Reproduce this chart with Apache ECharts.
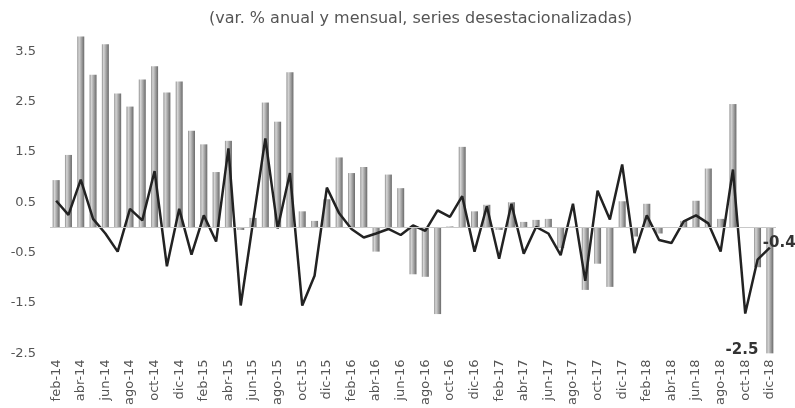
<!DOCTYPE html>
<html>
<head>
<meta charset="utf-8">
<script src="https://cdn.jsdelivr.net/npm/echarts@6/dist/echarts.min.js"></script>
<style>
  html, body { margin: 0; padding: 0; background: #fff; }
  #chart { width: 795px; height: 408px; }
</style>
</head>
<body>
<div id="chart"></div>
<script>
// meses feb-14 .. dic-18
const meses = [
  'feb-14', 'mar-14', 'abr-14', 'may-14', 'jun-14', 'jul-14', 'ago-14', 'sep-14', 'oct-14', 'nov-14', 'dic-14',
  'ene-15', 'feb-15', 'mar-15', 'abr-15', 'may-15', 'jun-15', 'jul-15', 'ago-15', 'sep-15', 'oct-15', 'nov-15', 'dic-15',
  'ene-16', 'feb-16', 'mar-16', 'abr-16', 'may-16', 'jun-16', 'jul-16', 'ago-16', 'sep-16', 'oct-16', 'nov-16', 'dic-16',
  'ene-17', 'feb-17', 'mar-17', 'abr-17', 'may-17', 'jun-17', 'jul-17', 'ago-17', 'sep-17', 'oct-17', 'nov-17', 'dic-17',
  'ene-18', 'feb-18', 'mar-18', 'abr-18', 'may-18', 'jun-18', 'jul-18', 'ago-18', 'sep-18', 'oct-18', 'nov-18', 'dic-18'
]

// var. % anual (barras)
const anual = [
  0.94, 1.44, 3.79, 3.03, 3.64, 2.66, 2.40, 2.94, 3.20, 2.68, 2.90,
  1.92, 1.65, 1.10, 1.72, -0.05, 0.19, 2.48, 2.10, 3.08, 0.32, 0.13, 0.56,
  1.39, 1.08, 1.20, -0.48, 1.05, 0.78, -0.93, -0.98, -1.72, 0.02, 1.60, 0.32,
  0.45, -0.05, 0.50, 0.11, 0.15, 0.17, -0.41, 0.02, -1.24, -0.72, -1.18, 0.52,
  -0.18, 0.47, -0.12, 0.00, 0.13, 0.53, 1.17, 0.17, 2.45, 0.00, -0.79, -2.5
]

// var. % mensual (linea)
const mensual = [
  0.53, 0.25, 0.95, 0.17, -0.12, -0.48, 0.37, 0.14, 1.12, -0.77, 0.37,
  -0.54, 0.24, -0.28, 1.57, -1.55, 0.11, 1.77, -0.02, 1.08, -1.55, -0.96, 0.79,
  0.28, -0.03, -0.20, -0.12, -0.03, -0.15, 0.04, -0.07, 0.34, 0.21, 0.62, -0.48,
  0.42, -0.62, 0.47, -0.52, 0.01, -0.12, -0.55, 0.47, -1.06, 0.73, 0.16, 1.25,
  -0.51, 0.24, -0.25, -0.31, 0.12, 0.24, 0.08, -0.48, 1.15, -1.71, -0.64, -0.4
]

const titulo = '(var. % anual y mensual, series desestacionalizadas)'

const chart = echarts.init(document.getElementById('chart'))

const barColor = new echarts.graphic.LinearGradient(0, 0, 1, 0, [
  { offset: 0, color: '#8c8c8c' },
  { offset: 0.25, color: '#d6d6d6' },
  { offset: 0.55, color: '#ababab' },
  { offset: 1, color: '#6a6a6a' }
])

const last = anual.length - 1

chart.setOption({
  animation: false,
  textStyle: { fontFamily: 'DejaVu Sans' },
  title: {
    text: titulo,
    left: 204,
    top: 6,
    textStyle: { fontSize: 16, fontWeight: 'normal', color: '#555' }
  },
  grid: { left: 50, right: 19, top: 26, bottom: 49 },
  xAxis: {
    type: 'category',
    data: meses,
    axisLine: { show: false },
    axisTick: { show: false },
    axisLabel: { rotate: 90, interval: 1, color: '#555', fontSize: 13, margin: 6 }
  },
  yAxis: {
    type: 'value',
    min: -2.5,
    max: 4,
    interval: 1,
    splitLine: { show: false },
    axisLine: { show: false },
    axisTick: { show: false },
    axisLabel: { color: '#555', fontSize: 13, margin: 14, showMaxLabel: false }
  },
  series: [
    {
      type: 'bar',
      barWidth: 7,
      itemStyle: { color: barColor },
      data: anual.map((v, i) => i === last ? {
        value: v,
        label: {
          show: true,
          position: [-8, '100%'],
          align: 'right',
          verticalAlign: 'middle',
          offset: [0, -3],
          formatter: (p) => p.value.toFixed(1),
          fontSize: 15,
          fontWeight: 'bold',
          color: '#333'
        }
      } : v),
      markLine: {
        silent: true,
        symbol: 'none',
        label: { show: false },
        lineStyle: { color: '#c8c8c8', width: 1, type: 'solid' },
        data: [{ yAxis: 0 }]
      }
    },
    {
      type: 'line',
      showSymbol: false,
      symbol: 'none',
      z: 3,
      lineStyle: { color: '#222', width: 2.5 },
      endLabel: {
        show: true,
        distance: 0,
        offset: [-7, -4],
        formatter: (p) => p.value.toFixed(1),
        fontSize: 15,
        fontWeight: 'bold',
        color: '#333'
      },
      data: mensual
    }
  ]
})
</script>
</body>
</html>
